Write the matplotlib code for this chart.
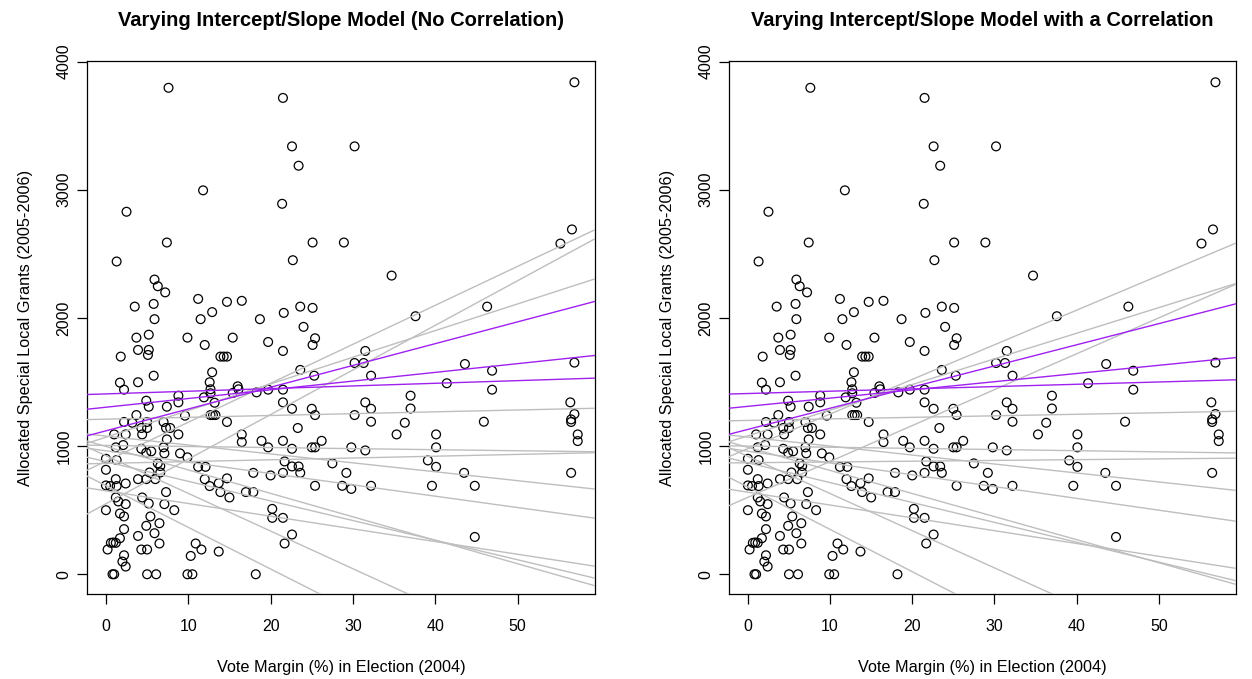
#!/usr/bin/env python3
"""Varying intercept/slope model fits over allocated grants vs vote margin."""

import matplotlib
matplotlib.use("Agg")
import matplotlib.pyplot as plt

plt.rcParams["font.family"] = ["Liberation Sans", "DejaVu Sans"]

# observed municipalities: vote margin (%) and allocated grants
margin = [
    7.6, 11.8, 2.5, 21.5, 22.6, 30.2, 23.4, 21.4,
    56.9, 56.6, 55.2, 37.6, 46.3, 43.6, 46.9, 56.9, 41.4, 46.9, 56.4, 37.0, 37.0,
    56.9, 56.5, 56.5, 45.9, 40.1, 57.3, 57.3, 40.1, 39.1, 40.1, 43.5, 56.5, 39.6, 44.8, 44.8,
    25.1, 28.9, 22.7, 34.7, 18.7, 21.6, 23.6, 25.1, 24.0, 19.7, 25.4, 25.1, 21.5, 31.5,
    23.6, 30.2, 31.3, 25.3, 32.2, 18.3, 19.7, 21.5, 21.5, 31.5,
    22.6, 25.0, 25.4, 30.2, 32.2, 32.2, 36.3, 35.3, 23.3, 18.9, 19.7, 21.5, 22.6, 25.0,
    25.4, 26.2, 29.8, 31.5, 21.7, 22.6, 23.4, 23.6, 21.5, 20.0, 17.9, 27.5, 29.2, 25.4,
    28.7, 29.8, 32.2, 17.9, 20.2, 20.2, 21.5, 22.6, 21.7, 18.2,
    7.4, 1.3, 5.9, 6.3, 7.2, 3.5, 5.8, 5.9, 11.2, 12.9, 14.7, 16.5, 11.5, 3.7, 5.2, 9.9,
    12.0, 15.4, 1.8, 3.9, 5.2, 5.1, 13.9, 14.3, 14.7, 5.8, 12.9, 1.7, 2.2, 3.9, 12.6,
    12.7, 12.7, 16.0, 16.1, 15.4, 8.8, 8.8, 11.9, 13.2, 4.9, 5.2, 7.4,
    3.7, 2.2, 3.2, 5.0, 4.3, 5.0, 7.0, 7.3, 7.8, 9.6, 12.7, 13.0, 13.3, 14.7, 1.0, 2.4,
    4.4, 7.4, 8.8, 16.5, 16.5, 1.2, 2.1, 4.3, 4.9, 5.5, 7.0, 7.1, 9.0, 9.9, 0.0, 1.3,
    6.3, 6.6, 0.0, 5.3, 6.6, 11.2, 12.1, 1.2, 3.9, 4.9, 6.0, 12.0, 0.0, 0.5, 1.3, 2.4,
    12.6, 13.7, 14.7, 13.9, 15.0, 17.0, 7.3, 4.4, 1.2, 1.5, 2.4, 5.2, 7.1, 8.3, 0.0,
    1.7, 2.2, 5.4, 6.5, 4.9, 2.2, 5.9, 3.9, 1.7, 0.6, 1.2, 0.9, 0.2, 4.3, 5.0, 6.5, 2.2,
    2.0, 2.4, 10.9, 11.6, 10.3, 13.7, 0.8, 1.0, 5.0, 6.1, 9.9, 10.5,
]
grants = [
    3795, 2995, 2828, 3716, 3338, 3338, 3187, 2890,
    3838, 2690, 2580, 2013, 2088, 1640, 1588, 1651, 1490, 1440, 1341, 1393, 1293,
    1250, 1208, 1188, 1190, 1091, 1091, 1039, 990, 888, 838, 791, 791, 690, 690, 291,
    2588, 2588, 2450, 2330, 1990, 2039, 2088, 2078, 1930, 1812, 1841, 1789, 1742, 1742,
    1594, 1648, 1648, 1549, 1549, 1419, 1440, 1440, 1341, 1341,
    1291, 1291, 1242, 1242, 1291, 1190, 1182, 1091, 1141, 1041, 990, 1041, 979, 990,
    990, 1041, 990, 966, 880, 841, 841, 791, 791, 771, 791, 865, 791, 690,
    690, 666, 690, 641, 510, 440, 440, 310, 240, 0,
    2588, 2440, 2299, 2247, 2199, 2088, 2109, 1990, 2148, 2045, 2125, 2133, 1990, 1846, 1869, 1846,
    1789, 1846, 1698, 1750, 1750, 1711, 1698, 1698, 1698, 1549, 1576, 1495, 1440, 1498, 1498,
    1443, 1412, 1466, 1443, 1414, 1393, 1341, 1380, 1338, 1354, 1307, 1307,
    1242, 1188, 1182, 1188, 1141, 1141, 1188, 1141, 1141, 1237, 1242, 1242, 1242, 1188, 1091, 1091,
    1091, 1052, 1091, 1091, 1031, 990, 1008, 979, 948, 959, 990, 943, 943, 912, 901, 891,
    865, 844, 815, 794, 794, 838, 838, 742, 742, 742, 742, 742, 693, 688, 688, 708,
    688, 711, 748, 641, 599, 641, 641, 599, 599, 568, 547, 552, 547, 500, 500,
    474, 451, 451, 398, 378, 352, 320, 299, 281, 245, 245, 248, 193, 193, 193, 240, 148,
    99, 60, 240, 193, 143, 177, 0, 0, 0, 0, 0, 0,
]

# group-level fitted lines (intercept, slope), no correlation
nocorr_grey_a = [882, 550, 1069, 1210, 1005, 865, 1078, 963, 651, 878, 997, 691, 925]
nocorr_grey_b = [30.4, 34.8, 20.8, 1.43, -0.83, 1.4, -6.96, -8.85, -9.9, -15.3, -18.3, -32.5, -29.4]
nocorr_purple_a = [1119, 1303, 1407]
nocorr_purple_b = [17.0, 6.8, 2.07]

# group-level fitted lines (intercept, slope), with correlation
corr_grey_a = [980, 600, 1080, 1200, 1000, 870, 1070, 960, 640, 870, 990, 680, 920]
corr_grey_b = [27.0, 28.0, 20.0, 1.2, -0.9, 0.6, -7.0, -9.2, -10.0, -15.5, -18.0, -33.0, -29.0]
corr_purple_a = [1130, 1310, 1410]
corr_purple_b = [16.5, 6.4, 1.8]

TITLES = [
    "Varying Intercept/Slope Model (No Correlation)",
    "Varying Intercept/Slope Model with a Correlation",
]


def draw_panel(ax, title, grey_a, grey_b, purple_a, purple_b):
    ax.scatter(margin, grants, s=40, facecolors="none", edgecolors="black",
               linewidths=0.9, zorder=2)
    for a, b in zip(grey_a, grey_b):
        ax.axline((0, a), slope=b, color="#bebebe", linewidth=1.0, zorder=3)
    for a, b in zip(purple_a, purple_b):
        ax.axline((0, a), slope=b, color="#a020f0", linewidth=1.0, zorder=4)

    ax.set_xlim(-2.3, 59.4)
    ax.set_ylim(-154, 4004)
    ax.set_xticks([0, 10, 20, 30, 40, 50])
    ax.set_yticks([0, 1000, 2000, 3000, 4000])
    ax.tick_params(length=7, width=0.9, labelsize=11.5, color="black")
    ax.tick_params(axis="x", pad=11)
    ax.tick_params(axis="y", pad=4)
    for lab in ax.get_yticklabels():
        lab.set_rotation(90)
        lab.set_va("center")
    for spine in ax.spines.values():
        spine.set_linewidth(0.9)
    ax.set_title(title, fontsize=14.5, fontweight="bold", pad=25)
    ax.set_xlabel("Vote Margin (%) in Election (2004)", fontsize=11.7, labelpad=19)
    ax.set_ylabel("Allocated Special Local Grants (2005-2006)", fontsize=11.7, labelpad=17)


def main():
    fig = plt.figure(figsize=(12.52, 6.79), dpi=100)
    W, H = 1252, 679
    ax_l = fig.add_axes([87 / W, 1 - 594 / H, (595 - 87) / W, (594 - 61) / H])
    ax_r = fig.add_axes([729 / W, 1 - 594 / H, (1236 - 729) / W, (594 - 61) / H])

    draw_panel(ax_l, TITLES[0], nocorr_grey_a, nocorr_grey_b, nocorr_purple_a, nocorr_purple_b)
    draw_panel(ax_r, TITLES[1], corr_grey_a, corr_grey_b, corr_purple_a, corr_purple_b)

    fig.savefig("out.png", dpi=100, facecolor="white")
    plt.close(fig)


if __name__ == "__main__":
    main()
